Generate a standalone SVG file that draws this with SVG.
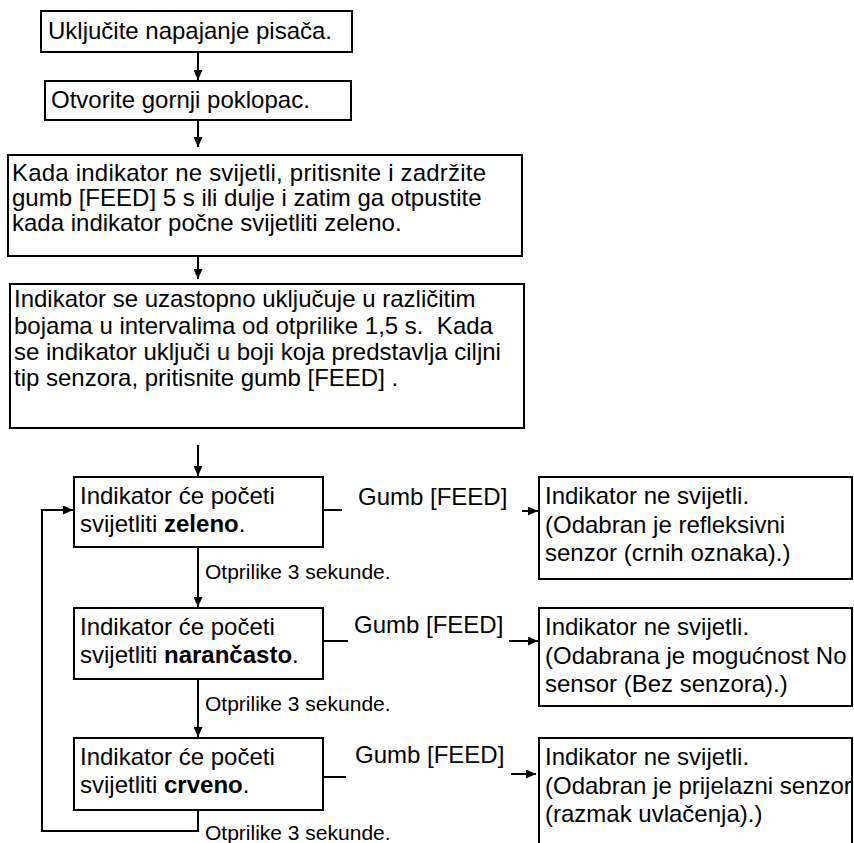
<svg xmlns="http://www.w3.org/2000/svg" width="854" height="843" viewBox="0 0 854 843">
<defs>
<marker id="ah" markerUnits="userSpaceOnUse" markerWidth="10" markerHeight="9" refX="10" refY="4.5" orient="auto"><path d="M0,0 L10,4.5 L0,9 z" fill="#000"/></marker>
<style>
.box{fill:#fff;stroke:#000;stroke-width:2}
.t{font-family:"Liberation Sans",Arial,sans-serif;font-size:24px;fill:#000;white-space:pre}
.s{font-family:"Liberation Sans",Arial,sans-serif;font-size:21px;fill:#000;white-space:pre}
.c{fill:none;stroke:#000;stroke-width:2}
.b{font-weight:bold}
</style>
</defs>
<rect width="854" height="843" fill="#fff"/>
<g id="connectors">
<path class="c" d="M198,52 V80" marker-end="url(#ah)"/>
<path class="c" d="M198,120 V147" marker-end="url(#ah)"/>
<path class="c" d="M198,256 V279" marker-end="url(#ah)"/>
<path class="c" d="M198,445 V476" marker-end="url(#ah)"/>
<path class="c" d="M198,547 V607" marker-end="url(#ah)"/>
<path class="c" d="M198,679 V737" marker-end="url(#ah)"/>
<path class="c" d="M198,810 V831 H42 V510 H73" marker-end="url(#ah)"/>
<path class="c" d="M323,510 H342"/>
<path class="c" d="M323,641 H348"/>
<path class="c" d="M323,777 H346"/>
<path class="c" d="M522,511 H538" marker-end="url(#ah)"/>
<path class="c" d="M509,641 H538" marker-end="url(#ah)"/>
<path class="c" d="M511,774 H536" marker-end="url(#ah)"/>
<text class="s" x="205" y="579">Otprilike 3 sekunde.</text>
<text class="s" x="205" y="711">Otprilike 3 sekunde.</text>
<text class="s" x="205" y="840">Otprilike 3 sekunde.</text>
<text class="t" x="358" y="505">Gumb [FEED]</text>
<text class="t" x="354" y="633">Gumb [FEED]</text>
<text class="t" x="355" y="763">Gumb [FEED]</text>
</g>
<g id="n1">
<rect class="box" x="41" y="11" width="311" height="41"/>
<text class="t" x="48" y="39" textLength="284">Uključite napajanje pisača.</text>
</g>
<g id="n2">
<rect class="box" x="45" y="81" width="306" height="39"/>
<text class="t" x="51" y="108">Otvorite gornji poklopac.</text>
</g>
<g id="n3">
<rect class="box" x="8" y="155" width="514" height="101"/>
<text class="t" x="12" y="181" textLength="474">Kada indikator ne svijetli, pritisnite i zadržite</text>
<text class="t" x="12" y="206">gumb [FEED] 5 s ili dulje i zatim ga otpustite</text>
<text class="t" x="12" y="231">kada indikator počne svijetliti zeleno.</text>
</g>
<g id="n4">
<rect class="box" x="10" y="284" width="514" height="144"/>
<text class="t" x="14" y="307">Indikator se uzastopno uključuje u različitim</text>
<text class="t" x="14" y="334">bojama u intervalima od otprilike 1,5 s.  Kada</text>
<text class="t" x="14" y="360">se indikator uključi u boji koja predstavlja ciljni</text>
<text class="t" x="14" y="386">tip senzora, pritisnite gumb [FEED] .</text>
</g>
<g id="green">
<rect class="box" x="74" y="477" width="249" height="70"/>
<text class="t" x="80" y="504">Indikator će početi</text>
<text class="t" x="80" y="532">svijetliti <tspan class="b">zeleno</tspan>.</text>
</g>
<g id="orange">
<rect class="box" x="74" y="608" width="249" height="71"/>
<text class="t" x="80" y="635">Indikator će početi</text>
<text class="t" x="80" y="663">svijetliti <tspan class="b">narančasto</tspan>.</text>
</g>
<g id="red">
<rect class="box" x="74" y="738" width="249" height="72"/>
<text class="t" x="80" y="765">Indikator će početi</text>
<text class="t" x="80" y="793">svijetliti <tspan class="b">crveno</tspan>.</text>
</g>
<g id="r1">
<rect class="box" x="539" y="477" width="313" height="102"/>
<text class="t" x="545" y="504">Indikator ne svijetli.</text>
<text class="t" x="545" y="533">(Odabran je refleksivni</text>
<text class="t" x="545" y="561">senzor (crnih oznaka).)</text>
</g>
<g id="r2">
<rect class="box" x="539" y="608" width="313" height="98"/>
<text class="t" x="545" y="635">Indikator ne svijetli.</text>
<text class="t" x="545" y="664">(Odabrana je mogućnost No</text>
<text class="t" x="545" y="692">sensor (Bez senzora).)</text>
</g>
<g id="r3">
<rect class="box" x="539" y="738" width="313" height="120"/>
<text class="t" x="545" y="765">Indikator ne svijetli.</text>
<text class="t" x="545" y="794">(Odabran je prijelazni senzor</text>
<text class="t" x="545" y="822">(razmak uvlačenja).)</text>
</g>
</svg>
